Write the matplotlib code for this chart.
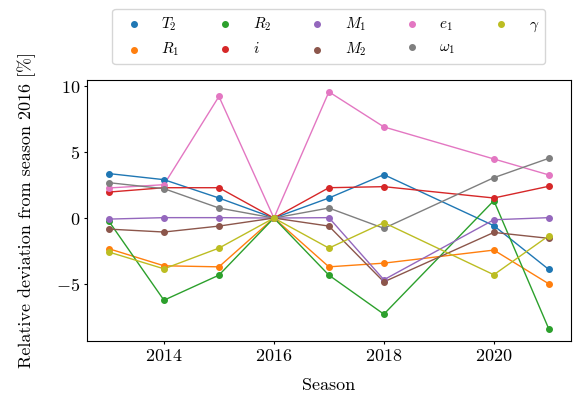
import matplotlib
matplotlib.use("Agg")
import matplotlib.pyplot as plt

plt.rcParams['font.family'] = 'serif'
plt.rcParams['font.serif'] = ['cmr10', 'DejaVu Serif']
plt.rcParams['mathtext.fontset'] = 'cm'
plt.rcParams['axes.formatter.use_mathtext'] = True
plt.rcParams['axes.unicode_minus'] = True

# seasons (no 2019 season)
seasons = [2013, 2014, 2015, 2016, 2017, 2018, 2020, 2021]

# relative deviation from season 2016 [%]
T2 = [3.37, 2.91, 1.52, 0.0, 1.52, 3.29, -0.58, -3.90]
R1 = [-2.33, -3.62, -3.70, 0.0, -3.70, -3.42, -2.43, -4.99]
R2 = [-0.25, -6.23, -4.33, 0.0, -4.33, -7.29, 1.32, -8.41]
inc = [1.97, 2.30, 2.30, 0.0, 2.30, 2.38, 1.52, 2.41]
M1 = [-0.08, 0.03, 0.03, 0.0, 0.03, -4.68, -0.13, 0.03]
M2 = [-0.84, -1.06, -0.61, 0.0, -0.61, -4.84, -1.09, -1.54]
e1 = [2.28, 2.53, 9.22, 0.0, 9.57, 6.91, 4.48, 3.27]
w1 = [2.68, 2.23, 0.76, 0.0, 0.76, -0.78, 3.06, 4.53]
gam = [-2.58, -3.85, -2.28, 0.0, -2.28, -0.35, -4.30, -1.34]

series = [
    (r'$T_2$', T2),
    (r'$R_1$', R1),
    (r'$R_2$', R2),
    (r'$i$', inc),
    (r'$M_1$', M1),
    (r'$M_2$', M2),
    (r'$e_1$', e1),
    (r'$\omega_1$', w1),
    (r'$\gamma$', gam),
]

fig = plt.figure(figsize=(5.76, 3.94), dpi=100)
ax = fig.add_axes([0.151, 0.135, 0.840, 0.662])

for i, (name, vals) in enumerate(series):
    c = 'C%d' % i
    ax.plot(seasons, vals, color=c, lw=1.0)
    ax.scatter(seasons, vals, color=c, s=16, zorder=3, label=name)

ax.set_xticks([2014, 2016, 2018, 2020])
ax.set_yticks([-5, 0, 5, 10])
ax.tick_params(labelsize=13, length=2.5, pad=2.5)
ax.set_xlabel('Season', fontsize=13)
ax.set_ylabel('Relative deviation from season 2016 [%]', fontsize=13)
ax.yaxis.set_label_coords(-0.105, 0.5)
ax.xaxis.set_label_coords(0.5, -0.14)

ax.legend(loc='upper center', bbox_to_anchor=(0.5, 1.3), ncol=5, fontsize=11,
          scatterpoints=1)

fig.savefig('out.png', dpi=100)
